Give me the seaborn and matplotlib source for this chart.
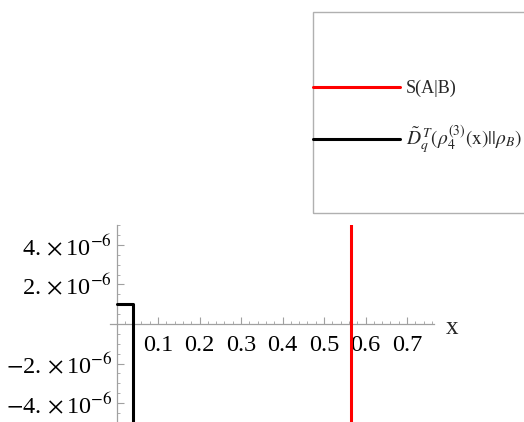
import matplotlib
matplotlib.use("Agg")
import matplotlib.pyplot as plt
import matplotlib.ticker as mticker
from matplotlib.lines import Line2D
from matplotlib.patches import Rectangle
import seaborn as sns
import pandas as pd

# ---- data ----
s_x = [0.564, 0.564]
s_y = [-1e-3, 1e-3]
d_x = [0.0, 0.039, 0.039]
d_y = [1.0e-6, 1.0e-6, -1e-3]
x_ticks = [0.1, 0.2, 0.3, 0.4, 0.5, 0.6, 0.7]
x_tick_labels = ["0.1", "0.2", "0.3", "0.4", "0.5", "0.6", "0.7"]
y_ticks = [-4e-6, -2e-6, 2e-6, 4e-6]
y_tick_labels = [r"$-$4.$\,\times$10$^{-6}$", r"$-$2.$\,\times$10$^{-6}$",
                 r"2.$\,\times$10$^{-6}$", r"4.$\,\times$10$^{-6}$"]
label_s = "S(A|B)"
label_d = r"$\tilde{D}_q^{\,T}(\rho_4^{(3)}(\mathrm{x})||\rho_B)$"

sns.set_theme(style="white")
plt.rcParams["font.family"] = ["Liberation Serif", "DejaVu Serif"]
plt.rcParams["mathtext.fontset"] = "stix"

W, H = 524, 422
fig = plt.figure(figsize=(W / 100, H / 100), dpi=100)
fig.patch.set_facecolor("white")

ax = fig.add_axes([110 / W, 0, 324 / W, (422 - 225) / H])
ax.set_facecolor("none")

df_s = pd.DataFrame({"x": s_x, "y": s_y})
df_d = pd.DataFrame({"x": d_x, "y": d_y})
sns.lineplot(data=df_s, x="x", y="y", ax=ax, color="#ff0000", lw=2.2,
             estimator=None, sort=False)
sns.lineplot(data=df_d, x="x", y="y", ax=ax, color="black", lw=2.2,
             estimator=None, sort=False)

ax.set_xlim(-0.0157, 0.765)
ax.set_ylim(-4.96e-6, 5.01e-6)
ax.set_xlabel("")
ax.set_ylabel("")

for side in ["top", "right"]:
    ax.spines[side].set_visible(False)
ax.spines["left"].set_position(("data", 0))
ax.spines["bottom"].set_position(("data", 0))
for side in ["left", "bottom"]:
    ax.spines[side].set_color("#a0a0a0")
    ax.spines[side].set_linewidth(0.9)
    ax.spines[side].set_zorder(0)

ax.xaxis.set_major_locator(mticker.FixedLocator(x_ticks))
ax.xaxis.set_major_formatter(mticker.FixedFormatter(x_tick_labels))
ax.xaxis.set_minor_locator(mticker.MultipleLocator(0.02))
ax.yaxis.set_major_locator(mticker.FixedLocator(y_ticks))
ax.yaxis.set_major_formatter(mticker.FixedFormatter(y_tick_labels))
ax.yaxis.set_minor_locator(mticker.MultipleLocator(5e-7))

ax.tick_params(axis="both", which="major", direction="in", length=5,
               width=0.8, color="#a0a0a0", labelsize=17.5, labelcolor="black",
               bottom=True, left=True)
ax.tick_params(axis="both", which="minor", direction="in", length=2.5,
               width=0.6, color="#a0a0a0", bottom=True, left=True)
ax.tick_params(axis="x", which="major", pad=8)
ax.tick_params(axis="y", which="major", pad=3)

fig.text(452 / W, 1 - 327.5 / H, "x", ha="center", va="center", fontsize=18)

# legend frame
fig.patches.append(Rectangle((313 / W, 1 - 213 / H), 240 / W, 201 / H,
                             transform=fig.transFigure, fill=False,
                             edgecolor="#b0b0b0", lw=1.0))
handles = [Line2D([], [], color="#ff0000", lw=2.2),
           Line2D([], [], color="black", lw=2.2)]
leg = fig.legend(handles, [label_s, label_d], loc="center left",
                 bbox_to_anchor=(313 / W, 1 - 118 / H), frameon=False,
                 borderpad=0, borderaxespad=0, handlelength=4.8,
                 handletextpad=0.33, labelspacing=1.5, fontsize=13)
leg.get_texts()[1].set_fontsize(14)

fig.savefig("out.png", dpi=100, facecolor="white")
